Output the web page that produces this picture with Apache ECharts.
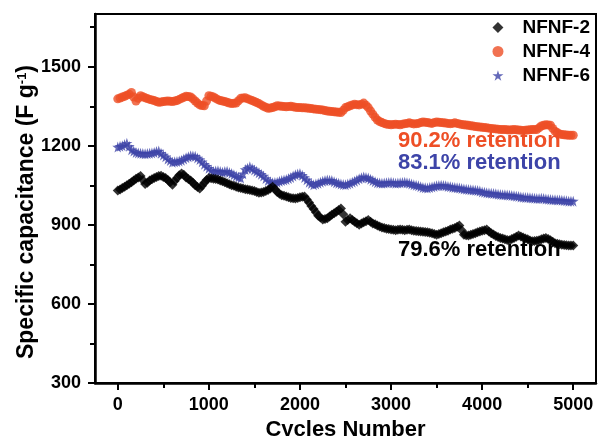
<!DOCTYPE html>
<html>
<head>
<meta charset="utf-8">
<script src="https://cdn.jsdelivr.net/npm/echarts@6/dist/echarts.min.js"></script>
<style>html,body{margin:0;padding:0;background:#fff}#c{width:598px;height:436px}</style>
</head>
<body>
<div id="c"></div>
<script>
var cycleStep = 25;

var nfnf2 = [
1030,1034,1040,1045,1050,1056,1062,1068,1075,1080,
1085,1070,1055,1060,1068,1073,1078,1082,1085,1086,
1082,1078,1070,1062,1052,1066,1078,1088,1095,1090,
1080,1074,1068,1060,1050,1044,1038,1048,1060,1070,
1078,1077,1075,1074,1072,1068,1065,1062,1058,1054,
1050,1048,1045,1042,1040,1038,1035,1034,1032,1030,
1028,1025,1022,1023,1025,1028,1032,1038,1045,1036,
1025,1018,1012,1010,1008,1005,1002,1001,1000,1002,
1005,1007,1008,996,985,972,960,948,935,928,
920,922,925,932,938,944,950,956,962,940,
912,918,925,918,912,906,900,905,910,914,
918,912,905,902,898,894,890,888,885,884,
882,881,880,881,882,881,880,881,882,880,
878,877,876,875,874,873,872,870,868,865,
862,865,868,872,875,878,882,885,888,893,
898,880,862,861,860,862,865,868,872,875,
878,880,882,875,868,863,858,854,850,848,
845,843,842,846,850,855,860,856,852,848,
845,841,838,839,840,842,845,848,850,846,
842,836,830,828,826,825,824,823,822,822,
822];

var nfnf4 = [
1378,1381,1385,1388,1392,1396,1402,1385,1370,1380,
1390,1386,1382,1379,1376,1374,1372,1368,1365,1366,
1368,1369,1370,1369,1368,1370,1372,1376,1380,1384,
1388,1387,1385,1378,1370,1362,1355,1353,1352,1370,
1390,1388,1385,1380,1375,1372,1370,1368,1365,1362,
1360,1361,1362,1371,1380,1381,1382,1378,1375,1372,
1368,1364,1360,1355,1350,1346,1342,1343,1345,1348,
1352,1351,1350,1349,1348,1349,1350,1348,1346,1345,
1345,1344,1344,1343,1342,1341,1340,1339,1338,1337,
1336,1334,1332,1331,1330,1329,1328,1327,1326,1335,
1345,1348,1352,1355,1358,1356,1355,1358,1362,1354,
1345,1332,1320,1308,1298,1292,1288,1285,1282,1281,
1280,1281,1282,1281,1280,1282,1284,1285,1287,1285,
1283,1284,1285,1288,1290,1289,1288,1286,1285,1288,
1290,1289,1288,1287,1286,1285,1284,1285,1287,1285,
1283,1281,1280,1279,1278,1276,1275,1273,1272,1271,
1270,1269,1268,1267,1266,1265,1264,1263,1262,1262,
1262,1261,1260,1261,1262,1261,1260,1259,1258,1259,
1260,1261,1262,1262,1262,1268,1275,1278,1280,1279,
1278,1266,1255,1250,1245,1243,1242,1241,1240,1240,
1240];

var nfnf6 = [
1195,1198,1200,1205,1210,1198,1185,1180,1175,1173,
1172,1171,1170,1171,1172,1173,1175,1178,1180,1172,
1165,1158,1150,1144,1138,1139,1140,1142,1145,1150,
1155,1158,1162,1161,1160,1154,1148,1139,1130,1122,
1115,1108,1102,1104,1105,1102,1100,1102,1103,1099,
1095,1090,1085,1081,1078,1094,1110,1115,1120,1114,
1108,1103,1098,1092,1085,1076,1068,1064,1060,1061,
1062,1065,1068,1070,1072,1076,1080,1085,1090,1093,
1095,1088,1080,1071,1062,1057,1052,1055,1058,1062,
1065,1068,1070,1069,1068,1064,1060,1058,1055,1053,
1052,1055,1058,1062,1065,1070,1075,1079,1082,1080,
1078,1073,1068,1064,1060,1059,1058,1059,1060,1061,
1062,1060,1058,1059,1060,1061,1062,1060,1058,1055,
1052,1050,1048,1045,1042,1041,1040,1042,1044,1046,
1048,1049,1050,1049,1048,1046,1045,1043,1042,1041,
1040,1038,1036,1035,1034,1033,1032,1031,1030,1028,
1025,1024,1022,1021,1020,1019,1018,1016,1015,1014,
1014,1013,1012,1011,1010,1009,1008,1006,1005,1004,
1004,1003,1002,1001,1000,1000,1001,1000,998,997,
996,995,995,994,994,993,992,991,990,990,
990];

var seriesNames = ['NFNF-2','NFNF-4','NFNF-6'];
var retentionLabels = ['79.6% retention','90.2% retention','83.1% retention'];
var xTitle = 'Cycles Number';
var yTitle = 'Specific capacitance (F g{sup|-1})';
var xTicks = [0,1000,2000,3000,4000,5000];
var xMinorTicks = [500,1500,2500,3500,4500];
var yTicks = [300,600,900,1200,1500];
var yMinorTicks = [450,750,1050,1350,1650];

function pairs(vals){ return vals.map(function(v,i){ return [i * cycleStep, v]; }); }
function plain(v){ return String(v); }

var FONT = '"Liberation Sans", Arial, sans-serif';
var RED = '#ee4f26', BLUE = '#3d44a8', BLACK = '#000000';
var STAR = 'path://M50,0 L61,35 L98,35 L68,57 L79,91 L50,70 L21,91 L32,57 L2,35 L39,35 Z';

var chart = echarts.init(document.getElementById('c'), null, {renderer:'canvas'});
chart.setOption({
  animation: false,
  backgroundColor: '#fff',
  textStyle: {fontFamily: FONT},
  grid: {left: 95, right: 2, top: 14, bottom: 53, outerBoundsMode: 'none', containLabel: false,
         show: true, borderColor: '#000', borderWidth: 2, backgroundColor: 'transparent'},
  legend: {
    orient: 'vertical', right: 3, top: 13, itemGap: 5, itemWidth: 11, itemHeight: 11,
    data: seriesNames,
    textStyle: {fontFamily: FONT, fontWeight: 'bold', fontSize: 19, color: '#000', padding: [0,0,0,14]}
  },
  xAxis: [{
    type: 'value', min: -250, max: 5250,
    axisLine: {show: true, onZero: false, lineStyle: {color: '#000', width: 2.5}},
    axisTick: {show: true, inside: false, length: 7, lineStyle: {color: '#000', width: 2}, customValues: xTicks},
    axisLabel: {customValues: xTicks, formatter: plain, color: '#000', fontWeight: 'bold', fontSize: 18, fontFamily: FONT, margin: 13},
    splitLine: {show: false},
    name: xTitle, nameLocation: 'middle', nameGap: 32,
    nameTextStyle: {fontFamily: FONT, fontWeight: 'bold', fontSize: 22, color: '#000'}
  },{
    type: 'value', min: -250, max: 5250, position: 'bottom',
    axisLine: {show: false, onZero: false},
    axisTick: {show: true, length: 5, lineStyle: {color: '#000', width: 2}, customValues: xMinorTicks},
    axisLabel: {show: false}, splitLine: {show: false}
  }],
  yAxis: [{
    type: 'value', min: 300, max: 1700,
    axisLine: {show: true, onZero: false, lineStyle: {color: '#000', width: 2.5}},
    axisTick: {show: true, length: 7, lineStyle: {color: '#000', width: 2}, customValues: yTicks},
    axisLabel: {customValues: yTicks, formatter: plain, color: '#000', fontWeight: 'bold', fontSize: 18, fontFamily: FONT, margin: 14},
    splitLine: {show: false}
  },{
    type: 'value', min: 300, max: 1700, position: 'left',
    axisLine: {show: false, onZero: false},
    axisTick: {show: true, length: 5, lineStyle: {color: '#000', width: 2}, customValues: yMinorTicks},
    axisLabel: {show: false}, splitLine: {show: false}
  }],
  series: [
    {name: seriesNames[0], type: 'scatter', symbol: 'diamond', symbolSize: 10, itemStyle: {color: BLACK}, data: pairs(nfnf2), z: 5},
    {name: seriesNames[1], type: 'scatter', symbol: 'circle', symbolSize: 9, itemStyle: {color: RED}, data: pairs(nfnf4), z: 4},
    {name: seriesNames[2], type: 'scatter', symbol: STAR, symbolSize: 11, itemStyle: {color: BLUE}, data: pairs(nfnf6), z: 4}
  ],
  graphic: {
    z: 1,
    elements: [
      {type: 'text', x: 27, y: 212, rotation: Math.PI / 2,
       style: {text: yTitle, align: 'center', verticalAlign: 'middle', fill: '#000', font: 'bold 23px ' + FONT,
         rich: {sup: {font: 'bold 13px ' + FONT, fill: '#000', verticalAlign: 'top', padding: [0,0,10,0]}}}},
      {type: 'text', left: 398, top: 130, style: {text: retentionLabels[1], fill: RED, font: 'bold 22px ' + FONT}},
      {type: 'text', left: 398, top: 152, style: {text: retentionLabels[2], fill: BLUE, font: 'bold 22px ' + FONT}},
      {type: 'text', left: 398, top: 239, style: {text: retentionLabels[0], fill: BLACK, font: 'bold 22px ' + FONT}}
    ]
  }
});
</script>
</body>
</html>
